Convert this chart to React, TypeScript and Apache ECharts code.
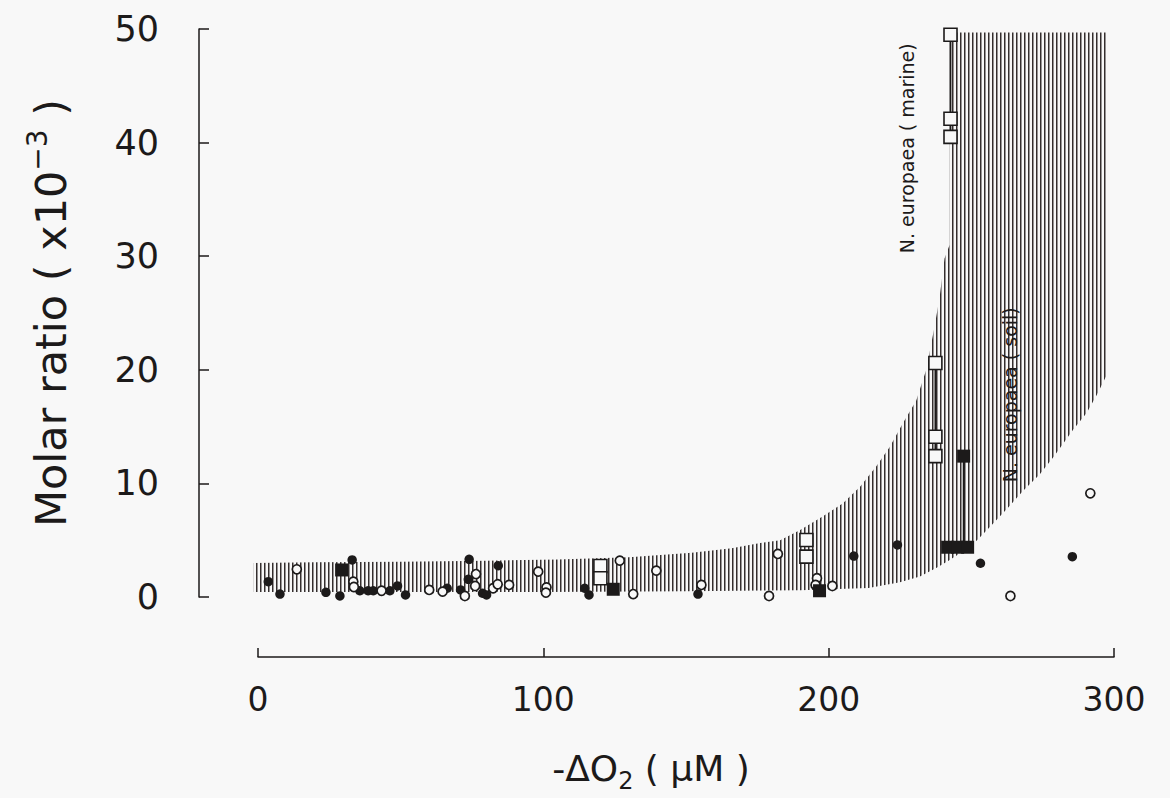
import React, { useEffect, useRef } from 'react';
import * as echarts from 'echarts';

// Axis ticks
const xTicks = [0, 100, 200, 300];
const yTicks = [0, 10, 20, 30, 40, 50];

// Scatter data: [-ΔO2 (µM), molar ratio (x10^-3)]
const filledCircles: [number, number][] = [
  [3.6, 1.35], [7.7, 0.26], [23.8, 0.41], [28.7, 0.09], [33.0, 3.26], [35.7, 0.55],
  [38.6, 0.55], [40.4, 0.55], [46.2, 0.55], [48.9, 0.97], [51.7, 0.18], [66.3, 0.77],
  [71.0, 0.62], [74.0, 3.32], [73.7, 1.56], [78.7, 0.33], [80.1, 0.18], [84.2, 2.76],
  [114.5, 0.77], [116.0, 0.18], [154.2, 0.26], [208.8, 3.6], [224.1, 4.58], [253.2, 2.97],
  [285.4, 3.55],
];
const openCircles: [number, number][] = [
  [13.6, 2.44], [33.4, 1.35], [33.6, 0.88], [43.3, 0.55], [60.0, 0.62], [64.7, 0.47],
  [72.5, 0.09], [76.4, 2.02], [76.1, 0.97], [82.4, 0.77], [84.0, 1.12], [88.0, 1.06],
  [98.2, 2.23], [101.1, 0.85], [100.9, 0.38], [126.8, 3.2], [131.5, 0.26], [139.6, 2.32],
  [155.4, 1.06], [179.1, 0.09], [182.2, 3.79], [195.9, 1.65], [195.4, 1.06], [201.3, 0.97],
  [263.7, 0.09], [291.7, 9.13],
];
const openSquares: [number, number][] = [
  [120.0, 2.73], [120.0, 1.65], [192.2, 5.02], [192.2, 3.55],
  [237.4, 20.6], [237.4, 14.1], [237.4, 12.4],
  [242.7, 49.5], [242.7, 42.1], [242.7, 40.5],
];
const filledSquares: [number, number][] = [
  [29.3, 2.38], [124.5, 0.68], [196.8, 0.55], [247.3, 12.4],
  [241.7, 4.38], [245.2, 4.38], [248.7, 4.38],
];

// Range bars joining replicate squares
const marineLink: [number, number][] = [[242.7, 40.5], [242.7, 49.5]];
const soilOpenLink: [number, number][] = [[237.4, 12.4], [237.4, 20.6]];
const soilFilledLink: [number, number][] = [[247.3, 4.38], [247.3, 12.4]];

// Hatched envelope: upper and lower boundary
const bandUpper: [number, number][] = [
  [-1.5, 3.0], [20, 3.05], [50, 3.1], [80, 3.2], [105, 3.3], [130, 3.5], [152, 3.9],
  [166, 4.3], [176, 4.75], [183, 5.0], [190, 5.9], [198, 7.1], [205, 8.25], [211, 9.7],
  [216.7, 11.5], [221.4, 13.2], [226, 15.3], [230.7, 17.3], [234.2, 20.0], [237.1, 23.8],
  [238.9, 26.4], [240.6, 29.8], [242.4, 31.0], [242.4, 49.7], [297.2, 49.7],
];
const bandLower: [number, number][] = [
  [-1.5, 0.45], [50, 0.45], [100, 0.45], [150, 0.5], [190, 0.6], [214, 0.8], [225, 1.3],
  [232, 1.8], [238, 2.6], [242, 3.2], [247, 4.0], [252, 5.0], [257, 6.3], [263, 7.9],
  [268, 9.3], [274, 10.8], [279, 12.4], [285.6, 14.7], [290.4, 16.2], [294, 17.8], [297.2, 19.4],
];

// Annotation anchors (data coordinates of label centres)
const marineLabelAt: [number, number] = [227.3, 39.5];
const soilLabelAt: [number, number] = [263.6, 17.8];

const INK = '#1c1a1a';
const BG = '#f8f8f8';
const FONT = '"DejaVu Sans", sans-serif';

const hatchSvg =
  "<svg xmlns='http://www.w3.org/2000/svg' width='4' height='4'>" +
  "<rect x='0' y='0' width='1.5' height='4' fill='#342e2e'/></svg>";
const hatchUrl = 'data:image/svg+xml;charset=utf-8,' + encodeURIComponent(hatchSvg);

export default function App() {
  const ref = useRef<HTMLDivElement>(null);

  useEffect(() => {
    if (!ref.current) return;
    const chart = echarts.init(ref.current, undefined, { renderer: 'svg' });

    const hatch: any = { image: hatchUrl, repeat: 'repeat', imageWidth: 4, imageHeight: 4 };

    const markerBase = { type: 'scatter', z: 5 };

    const option: any = {
      animation: false,
      backgroundColor: BG,
      textStyle: { fontFamily: FONT },
      grid: { left: 258, right: 56, top: 29, bottom: 201, containLabel: false, outerBoundsMode: 'none' },
      xAxis: {
        type: 'value',
        min: xTicks[0],
        max: xTicks[xTicks.length - 1],
        interval: xTicks[1] - xTicks[0],
        offset: 60,
        axisLine: { show: true, onZero: false, lineStyle: { color: INK, width: 1.5 } },
        axisTick: { show: true, inside: true, length: 9, lineStyle: { color: INK, width: 1.5 } },
        axisLabel: { fontSize: 33, color: INK, margin: 26, fontFamily: FONT },
        splitLine: { show: false },
        name: '-ΔO{sub|2} ( μM )',
        nameLocation: 'middle',
        nameGap: 86,
        nameTextStyle: {
          fontSize: 36, color: INK, fontFamily: FONT, lineHeight: 50,
          padding: [0, 70, 0, 0],
          rich: { sub: { fontSize: 24, lineHeight: 24, verticalAlign: 'bottom', color: INK, fontFamily: FONT } },
        },
      },
      yAxis: {
        type: 'value',
        min: yTicks[0],
        max: yTicks[yTicks.length - 1],
        interval: yTicks[1] - yTicks[0],
        offset: 59,
        axisLine: { show: true, onZero: false, lineStyle: { color: INK, width: 1.5 } },
        axisTick: { show: true, inside: true, length: 10, lineStyle: { color: INK, width: 1.5 } },
        axisLabel: { fontSize: 35, color: INK, margin: 40, fontFamily: FONT },
        splitLine: { show: false },
        name: 'Molar ratio ( x10{sup|−3} )',
        nameLocation: 'middle',
        nameRotate: 90,
        nameGap: 120,
        nameTextStyle: {
          fontSize: 43, color: INK, fontFamily: FONT, lineHeight: 56,
          rich: { sup: { fontSize: 28, lineHeight: 28, verticalAlign: 'top', color: INK, fontFamily: FONT } },
        },
      },
      series: [
        {
          type: 'custom',
          name: 'envelope',
          clip: false,
          z: 1,
          silent: true,
          data: [[0, 0]],
          renderItem: (_params: any, api: any) => {
            const pts = bandUpper
              .map((p) => api.coord(p))
              .concat(bandLower.slice().reverse().map((p) => api.coord(p)));
            return { type: 'polygon', shape: { points: pts }, style: { fill: hatch, stroke: null } };
          },
        },
        ...[marineLink, soilOpenLink, soilFilledLink].map((d, i) => ({
          type: 'line',
          name: 'range' + i,
          data: d,
          showSymbol: false,
          symbol: 'none',
          z: 3,
          lineStyle: { color: INK, width: 1.8 },
        })),
        {
          ...markerBase,
          name: 'filled circles',
          data: filledCircles,
          symbol: 'circle',
          symbolSize: 9.5,
          itemStyle: { color: INK, borderWidth: 0, opacity: 1 },
        },
        {
          ...markerBase,
          name: 'open circles',
          data: openCircles,
          symbol: 'circle',
          symbolSize: 9,
          itemStyle: { color: BG, borderColor: INK, borderWidth: 1.7, opacity: 1 },
        },
        {
          ...markerBase,
          name: 'open squares',
          data: openSquares,
          symbol: 'rect',
          symbolSize: 13,
          itemStyle: { color: BG, borderColor: INK, borderWidth: 1.6, opacity: 1 },
        },
        {
          ...markerBase,
          name: 'filled squares',
          data: filledSquares,
          symbol: 'rect',
          symbolSize: 13,
          itemStyle: { color: INK, borderWidth: 0, opacity: 1 },
        },
      ],
    };

    chart.setOption(option);

    const m = chart.convertToPixel({ gridIndex: 0 }, marineLabelAt) as number[];
    const s = chart.convertToPixel({ gridIndex: 0 }, soilLabelAt) as number[];
    const labelStyle = (text: string) => ({
      text,
      fontSize: 19,
      fontFamily: FONT,
      fill: INK,
      align: 'center',
      verticalAlign: 'middle',
      textAlign: 'center',
      textVerticalAlign: 'middle',
    });
    chart.setOption({
      graphic: [
        { type: 'text', x: m[0], y: m[1], rotation: Math.PI / 2, z: 10, style: labelStyle('N. europaea ( marine)') },
        { type: 'text', x: s[0], y: s[1], rotation: Math.PI / 2, z: 10, style: labelStyle('N. europaea ( soil)') },
      ],
    });

    return () => chart.dispose();
  }, []);

  return (
    <div
      ref={ref}
      style={{ position: 'fixed', left: 0, top: 0, width: 1170, height: 798, background: BG }}
    />
  );
}
